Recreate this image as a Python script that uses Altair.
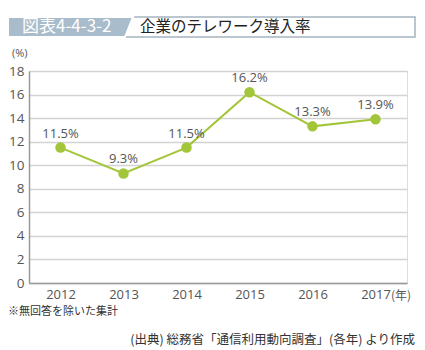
import altair as alt
import pandas as pd

years = ["2012", "2013", "2014", "2015", "2016", "2017"]
rates = [11.5, 9.3, 11.5, 16.2, 13.3, 13.9]
labels = ["11.5%", "9.3%", "11.5%", "16.2%", "13.3%", "13.9%"]
y_ticks = [0, 2, 4, 6, 8, 10, 12, 14, 16, 18]

title_num = "図表4-4-3-2"
title_text = "企業のテレワーク導入率"
note_text = "※無回答を除いた集計"
source_text = "(出典) 総務省「通信利用動向調査」(各年) より作成"

df = pd.DataFrame({"year": years, "rate": rates, "label": labels})

NUM_FONT = "Open Sans"
JP_FONT = "Noto Sans CJK JP"
GREEN = "#a3c53a"
TXT = "#555555"

x_enc = alt.X("year:O", scale=alt.Scale(type="point", padding=0.5),
              axis=alt.Axis(title=None, labelAngle=0, ticks=False, domainColor="#999999",
                            domainWidth=1.5, labelFont=NUM_FONT, labelFontSize=13,
                            labelColor=TXT, labelPadding=5, grid=False))
y_enc = alt.Y("rate:Q", scale=alt.Scale(domain=[0, 18], nice=False, zero=True),
              axis=alt.Axis(title=None, values=y_ticks, ticks=False, domainColor="#999999",
                            domainWidth=1.5, gridColor="#d3d3d3", gridWidth=1.5,
                            labelFont=NUM_FONT, labelFontSize=13.5, labelColor=TXT,
                            labelPadding=5, labelOverlap=False, tickCount=20))

base = alt.Chart(df)
line = base.mark_line(color=GREEN, strokeWidth=2).encode(x=x_enc, y=y_enc)
pts = base.mark_circle(color=GREEN, size=110, opacity=1).encode(x=x_enc, y=y_enc)
txt = base.mark_text(font=NUM_FONT, fontSize=13, color=TXT, dy=-14, baseline="middle").encode(
    x=x_enc, y=y_enc, text="label:N")

one = alt.Data(values=[{"d": 0}])

def deco_text(s, x, y, size, color, font, align="left", weight="normal"):
    return alt.Chart(one).mark_text(font=font, fontSize=size, color=color, align=align,
                                    baseline="middle", fontWeight=weight).encode(
        x=alt.value(x), y=alt.value(y), text=alt.value(s))

# plot origin at page (29, 71)
box = alt.Chart(one).mark_rect(fill="white", stroke="#a5b4bf", strokeWidth=1.5).encode(
    x=alt.value(95), x2=alt.value(386), y=alt.value(-54), y2=alt.value(-34))
banner = alt.Chart(one).mark_point(
    shape="M-1,-0.16L1,-0.16L0.872,0.16L-1,0.16Z", filled=True, fill="#a9bccb",
    stroke="white", strokeWidth=2, opacity=1, size=15625).encode(
    x=alt.value(41.5), y=alt.value(-44))

layers = [
    box, banner,
    deco_text(title_num, -7, -44, 17, "white", JP_FONT),
    deco_text(title_text, 111, -44, 15.5, "#222222", JP_FONT),
    deco_text("(%)", -17, -17, 11, TXT, NUM_FONT),
    deco_text("(年)", 362, 225, 12, TXT, JP_FONT),
    deco_text(note_text, -21, 241, 11, "#333333", JP_FONT),
    deco_text(source_text, 386, 269, 12.5, "#333333", JP_FONT, align="right"),
    line, pts, txt,
]

chart = alt.layer(*layers).properties(
    width=378, height=212,
    autosize=alt.AutoSizeParams(type="none"),
    padding={"left": 29, "top": 71, "right": 18, "bottom": 67},
).configure_view(stroke=None).configure(background="white")

chart.save("out.html", embed_options={"renderer": "svg", "actions": False})
